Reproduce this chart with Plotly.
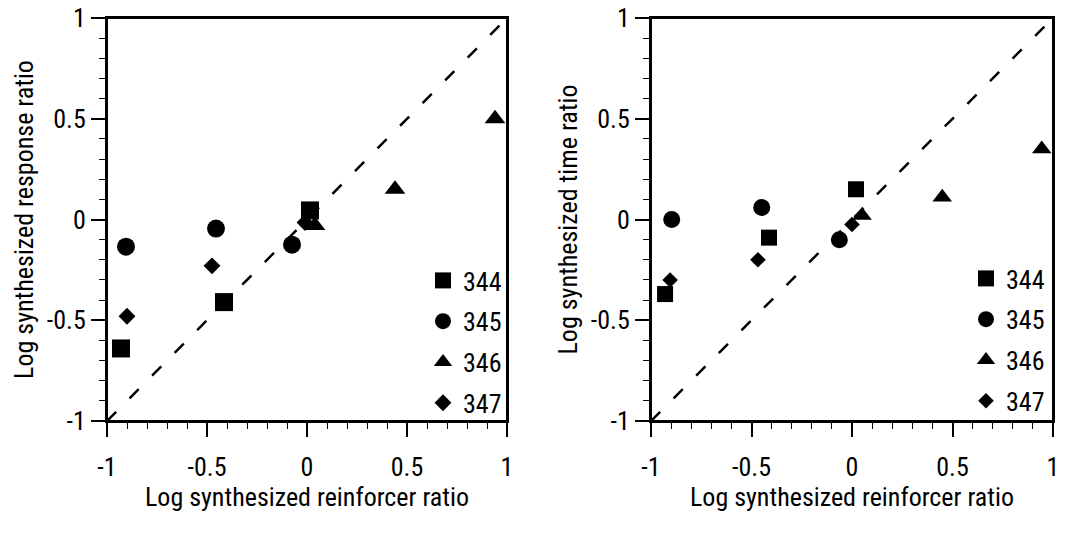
import plotly.graph_objects as go

# ---- data ----
subjects = ["344", "345", "346", "347"]
symbols = ["square", "circle", "triangle-up", "diamond"]

# Left panel: log synthesized response ratio vs log synthesized reinforcer ratio
resp_x = {
    "344": [-0.93, -0.415, 0.015],
    "345": [-0.905, -0.455, -0.075],
    "346": [0.94, 0.44, 0.04],
    "347": [-0.90, -0.475, -0.01],
}
resp_y = {
    "344": [-0.64, -0.41, 0.045],
    "345": [-0.135, -0.045, -0.125],
    "346": [0.50, 0.15, -0.03],
    "347": [-0.48, -0.23, -0.015],
}

# Right panel: log synthesized time ratio vs log synthesized reinforcer ratio
time_x = {
    "344": [-0.93, -0.413, 0.02],
    "345": [-0.897, -0.449, -0.063],
    "346": [0.944, 0.449, 0.05],
    "347": [-0.905, -0.468, 0.0],
}
time_y = {
    "344": [-0.37, -0.09, 0.15],
    "345": [0.0, 0.06, -0.10],
    "346": [0.35, 0.11, 0.02],
    "347": [-0.30, -0.20, -0.025],
}

diag = [-1, 1]
tick_vals = [-1, -0.5, 0, 0.5, 1]
tick_text = ["-1", "-0.5", "0", "0.5", "1"]

# ---- styling ----
FONT = "Liberation Sans Narrow, Arial Narrow, Roboto Condensed, Liberation Sans, Arial, sans-serif"
left_sizes = {"344": 18, "345": 18, "346": 18, "347": 13}
right_sizes = {"344": 16, "345": 17, "346": 17, "347": 12}

W, H = 1067, 537
OFF = 0  # body margin removed via post_script


def px_x(p):
    return (p - OFF) / W


def px_y(p):
    return 1 - (p - OFF) / H


fig = go.Figure()

for panel, (xs, ys, sizes, xa, ya, leg) in enumerate([
    (resp_x, resp_y, left_sizes, "x", "y", "legend"),
    (time_x, time_y, right_sizes, "x2", "y2", "legend2"),
]):
    fig.add_trace(go.Scatter(
        x=diag, y=diag, mode="lines", xaxis=xa, yaxis=ya,
        line=dict(color="black", width=2.5, dash="13px,19px"),
        showlegend=False, hoverinfo="skip",
    ))
    for s, sym in zip(subjects, symbols):
        fig.add_trace(go.Scatter(
            x=xs[s], y=ys[s], mode="markers", name=s,
            xaxis=xa, yaxis=ya, legend=leg, legendgroup=f"{leg}{s}",
            marker=dict(symbol=sym, size=sizes[s], color="black",
                        line=dict(width=0)),
            cliponaxis=False,
        ))

axis_common = dict(
    range=[-1, 1], automargin=False, ticklabeloverflow="allow",
    tickmode="array", tickvals=tick_vals, ticktext=tick_text,
    ticks="outside", ticklen=14, tickwidth=1.5, tickcolor="black",
    minor=dict(dtick=0.1, ticks="outside", ticklen=6, tickwidth=1, tickcolor="black"),
    showline=True, linecolor="black", linewidth=2, mirror=True,
    showgrid=False, zeroline=False,
    tickfont=dict(family=FONT, size=26, color="black"),
    title_font=dict(family=FONT, size=26, color="black"),
)

dom_y = [px_y(421), px_y(18)]
fig.update_layout(
    width=W, height=H,
    margin=dict(l=0, r=0, t=0, b=0, autoexpand=False),
    paper_bgcolor="white", plot_bgcolor="white",
    font=dict(family=FONT, color="black"),
    xaxis=dict(axis_common, domain=[px_x(107), px_x(507)], anchor="y",
               title=dict(text="Log synthesized reinforcer ratio", standoff=3),
               ticklabelstandoff=8),
    yaxis=dict(axis_common, domain=dom_y, anchor="x",
               title=dict(text="Log synthesized response ratio", standoff=6)),
    xaxis2=dict(axis_common, domain=[px_x(651), px_x(1053)], anchor="y2",
                title=dict(text="Log synthesized reinforcer ratio", standoff=3),
                ticklabelstandoff=8),
    yaxis2=dict(axis_common, domain=dom_y, anchor="x2",
                title=dict(text="Log synthesized time ratio", standoff=6)),
    legend=dict(x=px_x(423), y=px_y(257), xanchor="left", yanchor="top",
                bgcolor="rgba(0,0,0,0)", borderwidth=0,
                font=dict(family=FONT, size=26, color="black"),
                tracegroupgap=4, traceorder="grouped"),
    legend2=dict(x=px_x(966), y=px_y(255), xanchor="left", yanchor="top",
                 bgcolor="rgba(0,0,0,0)", borderwidth=0,
                 font=dict(family=FONT, size=26, color="black"),
                 tracegroupgap=4, traceorder="grouped"),
)

# plot frames (box round each panel)
for xr, yr in [("x domain", "y domain"), ("x2 domain", "y2 domain")]:
    fig.add_shape(type="rect", xref=xr, yref=yr, x0=0, x1=1, y0=0, y1=1,
                  line=dict(color="black", width=2), fillcolor="rgba(0,0,0,0)",
                  layer="above")

fig.write_html("out.html",
               config={"displayModeBar": False},
               post_script="document.body.style.margin='0px';")
